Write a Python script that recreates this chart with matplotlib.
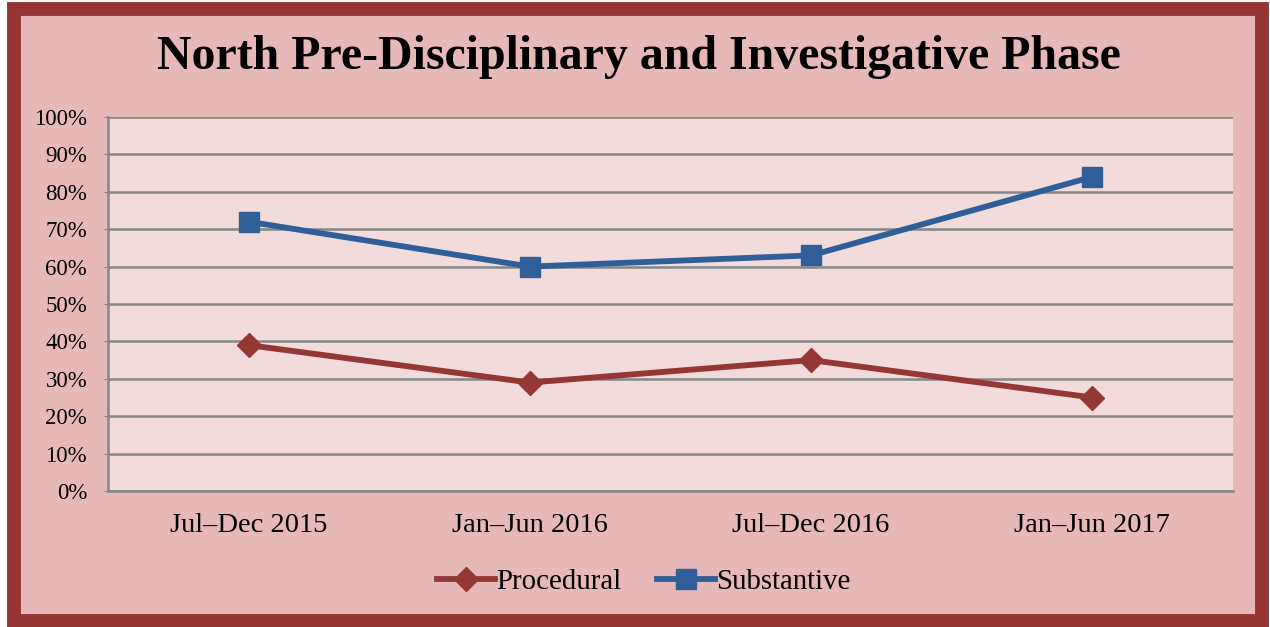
import matplotlib.pyplot as plt
import matplotlib.patches as patches
from matplotlib.ticker import PercentFormatter

# ── 데이터 ─────────────────────────────────────────
periods = ['Jul\u2013Dec 2015', 'Jan\u2013Jun 2016', 'Jul\u2013Dec 2016', 'Jan\u2013Jun 2017']
procedural = [39, 29, 35, 25]
substantive = [72, 60, 63, 84]

plt.rcParams['font.family'] = ['Liberation Serif', 'DejaVu Serif']

W, H = 1270, 627
fig = plt.figure(figsize=(W / 100, H / 100), dpi=100)
fig.patch.set_facecolor('white')

# ── 바깥 테두리 + 배경 ────────────────────────────
border = patches.Rectangle(
    (14 / W, 1 - 621 / H), 1248 / W, 612 / H,
    transform=fig.transFigure, facecolor='#E6B9B8',
    edgecolor='#963634', linewidth=10, zorder=-5)
fig.patches.append(border)

# ── 플롯 영역 ─────────────────────────────────────
ax = fig.add_axes([108 / W, 1 - 491 / H, 1125 / W, 374 / H])
ax.set_facecolor('#F2DCDB')
ax.set_zorder(2)

x = range(len(periods))
ax.plot(x, procedural, color='#953735', lw=4.2, marker='D', ms=12.5,
        label='Procedural', zorder=3, clip_on=False)
ax.plot(x, substantive, color='#2F5E98', lw=4.2, marker='s', ms=14.5,
        label='Substantive', zorder=3, clip_on=False)

ax.set_xlim(-0.5, len(periods) - 0.5)
ax.set_ylim(0, 100)
ax.set_yticks(range(0, 101, 10))
ax.yaxis.set_major_formatter(PercentFormatter(decimals=0))
ax.set_xticks(list(x))
ax.set_xticklabels(periods)
ax.grid(axis='y', color='#868686', lw=1.8, zorder=1)
ax.set_axisbelow(True)

for side in ['top', 'right']:
    ax.spines[side].set_visible(False)
for side in ['left', 'bottom']:
    ax.spines[side].set_color('#868686')
    ax.spines[side].set_linewidth(1.8)

ax.tick_params(axis='y', length=3, color='#868686', labelsize=16.5, pad=12)
ax.tick_params(axis='x', length=0, labelsize=20.5, pad=16)

# ── 제목 ─────────────────────────────────────────
fig.text(0.503, 1 - 69 / H, 'North Pre-Disciplinary and Investigative Phase',
         ha='center', va='baseline', fontsize=34.5, fontweight='bold')

# ── 범례 ─────────────────────────────────────────
fig.legend(loc='center', bbox_to_anchor=(0.507, 1 - 582 / H), ncol=2,
           frameon=False, fontsize=20.8, handlelength=2.0, columnspacing=1.25,
           handletextpad=0.05)

fig.savefig('out.png', dpi=100)
